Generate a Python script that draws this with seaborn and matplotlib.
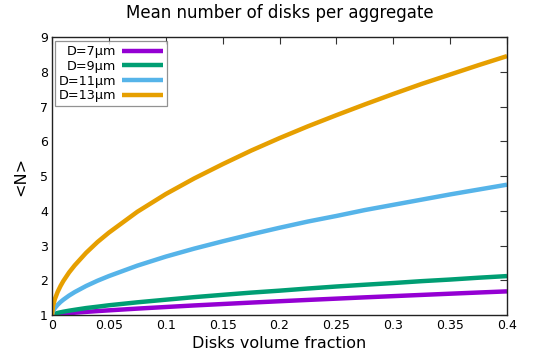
import pandas as pd
import seaborn as sns
import matplotlib.pyplot as plt

# Values
phi = [0, 0.001, 0.0025, 0.005, 0.0075, 0.01, 0.015, 0.02, 0.03, 0.04, 0.05, 0.075, 0.1,
       0.125, 0.15, 0.175, 0.2, 0.225, 0.25, 0.275, 0.3, 0.325, 0.35, 0.375, 0.4]
n_d7 = [1.0, 1.006, 1.013, 1.022, 1.031, 1.038, 1.052, 1.066, 1.09, 1.113, 1.134, 1.184, 1.23,
        1.275, 1.316, 1.357, 1.396, 1.434, 1.471, 1.508, 1.543, 1.578, 1.613, 1.647, 1.68]
n_d9 = [1.0, 1.02, 1.037, 1.06, 1.078, 1.095, 1.124, 1.15, 1.20, 1.239, 1.28, 1.365, 1.44,
        1.514, 1.58, 1.644, 1.70, 1.762, 1.82, 1.871, 1.92, 1.974, 2.02, 2.073, 2.12]
n_d11 = [1.0, 1.116, 1.198, 1.295, 1.374, 1.441, 1.559, 1.66, 1.835, 1.986, 2.12, 2.42, 2.68,
         2.91, 3.12, 3.32, 3.51, 3.69, 3.85, 4.02, 4.17, 4.32, 4.47, 4.61, 4.75]
n_d13 = [1.0, 1.276, 1.457, 1.669, 1.836, 1.98, 2.224, 2.43, 2.79, 3.10, 3.37, 3.97, 4.48,
         4.93, 5.34, 5.73, 6.09, 6.43, 6.75, 7.06, 7.36, 7.65, 7.92, 8.19, 8.45]

labels = ['D=7μm', 'D=9μm', 'D=11μm', 'D=13μm']
colors = ['#9400D3', '#009E73', '#56B4E9', '#E69F00']

frames = []
for lab, vals in zip(labels, [n_d7, n_d9, n_d11, n_d13]):
    frames.append(pd.DataFrame({'phi': phi, 'N': vals, 'D': lab}))
df = pd.concat(frames, ignore_index=True)

sns.set_style('white')
plt.rcParams['font.family'] = ['DejaVu Sans']
plt.rcParams['text.color'] = 'black'
plt.rcParams['axes.labelcolor'] = 'black'
plt.rcParams['xtick.labelcolor'] = 'black'
plt.rcParams['ytick.labelcolor'] = 'black'

fig = plt.figure(figsize=(5.34, 3.55), dpi=100)
ax = fig.add_axes([52 / 534, 1 - 315 / 355, 455 / 534, 278 / 355])

sns.lineplot(data=df, x='phi', y='N', hue='D', palette=colors, linewidth=3.2,
             ax=ax, legend=True)
for line in ax.get_lines():
    line.set_solid_capstyle('butt')
    line.set_solid_joinstyle('round')

ax.set_xlim(0, 0.4)
ax.set_ylim(1, 9)
ax.set_xticks([0, 0.05, 0.1, 0.15, 0.2, 0.25, 0.3, 0.35, 0.4])
ax.set_xticklabels(['0', '0.05', '0.1', '0.15', '0.2', '0.25', '0.3', '0.35', '0.4'])
ax.set_yticks(range(1, 10))
ax.tick_params(direction='in', length=5, width=0.8, top=True, right=True,
               labelsize=9, pad=3, color='#333333')
for sp in ax.spines.values():
    sp.set_visible(True)
    sp.set_color('#222222')
    sp.set_linewidth(1)

ax.set_xlabel('Disks volume fraction', fontsize=11.5, labelpad=3)
ax.set_ylabel('<N>', fontsize=11.5, labelpad=8)
ax.set_title('Mean number of disks per aggregate', fontsize=12, pad=13.5)

handles, _ = ax.get_legend_handles_labels()
leg = ax.legend(handles, labels, loc='upper left', bbox_to_anchor=(0.006, 0.985),
                markerfirst=False, fontsize=9.2, frameon=True, fancybox=False,
                handlelength=3.2, handletextpad=0.5, labelspacing=0.14,
                borderpad=0.3, borderaxespad=0)
leg.get_frame().set_edgecolor('#777777')
leg.get_frame().set_linewidth(0.9)
for line in leg.get_lines():
    line.set_linewidth(3.2)

plt.savefig('out.png', dpi=100)
